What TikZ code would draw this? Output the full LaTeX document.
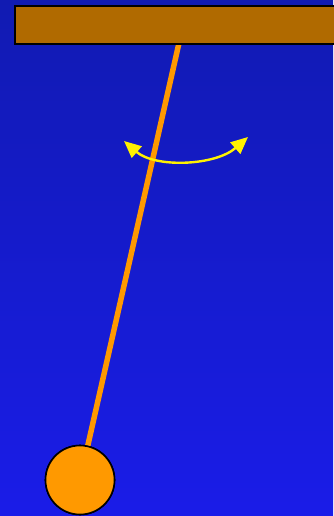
\documentclass[tikz,border=0pt]{standalone}
\usetikzlibrary{arrows.meta}
\definecolor{bgtop}{RGB}{17,27,178}
\definecolor{bgbot}{RGB}{26,28,232}
\definecolor{beamcol}{RGB}{176,106,0}
\definecolor{bobcol}{RGB}{255,153,0}
\tikzset{
  beamstyle/.style={draw=black, line width=1.8pt, fill=beamcol, inner sep=0pt, rectangle},
  bobstyle/.style={draw=black, line width=1.6pt, fill=bobcol, circle, inner sep=0pt, minimum size=69pt},
  rodstyle/.style={draw=bobcol, line width=5.5pt},
  swingstyle/.style={draw=yellow, line width=2.4pt, {Triangle[length=17pt,width=15pt]}-{Triangle[length=17pt,width=15pt]}}
}
\begin{document}
\begin{tikzpicture}[x=1pt,y=-1pt]
\useasboundingbox (0,0) rectangle (333,516);
\shade[top color=bgtop, bottom color=bgbot] (0,0) rectangle (333,516);
\coordinate (pivot) at (179,43);
\node[bobstyle] (bob) at (80,480) {};
\draw[rodstyle] (pivot) -- (bob);
\node[bobstyle] (bob) at (80,480) {};
\node[beamstyle, minimum width=330pt, minimum height=38pt, anchor=north west] (beam) at (14,5) {};
\coordinate (swingL) at (124,141);
\coordinate (swingR) at (248,137);
\draw[swingstyle] (swingL) .. controls (155,168) and (215,166) .. (swingR);
\end{tikzpicture}
\end{document}
